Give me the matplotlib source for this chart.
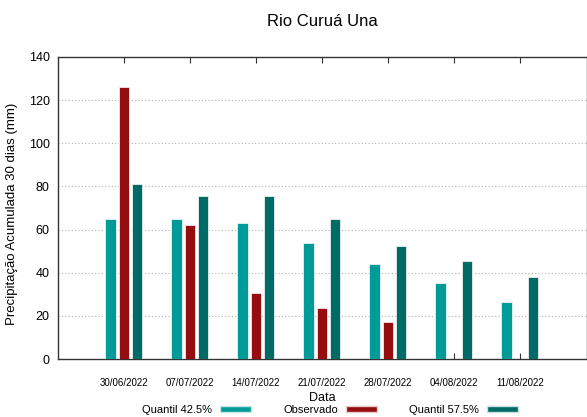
import numpy as np
import matplotlib
matplotlib.use("Agg")
import matplotlib.pyplot as plt
from matplotlib.patches import Patch

plt.rcParams['font.family'] = ['Liberation Sans', 'DejaVu Sans']

# dados
datas = ['30/06/2022', '07/07/2022', '14/07/2022', '21/07/2022',
         '28/07/2022', '04/08/2022', '11/08/2022']
quantil_425 = [64.8, 64.8, 63.2, 53.8, 44.1, 35.2, 26.5]
observado = [126.3, 62.1, 30.5, 23.6, 17.3, np.nan, np.nan]
quantil_575 = [81.1, 75.7, 75.7, 64.8, 52.3, 45.3, 38.2]

cor_q1 = '#009b98'
cor_obs = '#960d10'
cor_q2 = '#006a66'

fig = plt.figure(figsize=(5.87, 4.17), dpi=100)
ax = fig.add_axes([58 / 587, 1 - 359 / 417, 1 - 58 / 587, (359 - 57) / 417])

x = np.arange(len(datas))
w = 0.16
ax.bar(x - 0.2, quantil_425, w, color=cor_q1, edgecolor='#e8f4f4', linewidth=0.6, zorder=3)
ax.bar(x, observado, w, color=cor_obs, edgecolor='#f4e8e8', linewidth=0.6, zorder=3)
ax.bar(x + 0.2, quantil_575, w, color=cor_q2, edgecolor='#e8f0f0', linewidth=0.6, zorder=3)

ax.set_xlim(-1.0, 7.02)
ax.set_ylim(0, 140)
ax.set_yticks(np.arange(0, 141, 20))
ax.set_xticks(x)
ax.set_xticklabels(datas, fontsize=7)

for v in range(20, 140, 20):
    ax.axhline(v, color='#b0b0b0', linewidth=0.8, linestyle=(0, (1, 2)), zorder=1)

ax.tick_params(axis='x', direction='in', length=4, top=True, pad=14, colors='#333333',
               labelcolor='black')
ax.tick_params(axis='y', direction='in', length=0, pad=6, labelsize=9,
               labelcolor='black')
for s in ax.spines.values():
    s.set_color('#333333')
    s.set_linewidth(1.0)

ax.set_ylabel('Precipitação Acumulada 30 dias (mm)', fontsize=9.5)
ax.yaxis.set_label_coords(-(58 - 18) / 529, (359 - 214) / 302)
ax.set_xlabel('Data', fontsize=9)
ax.xaxis.set_label_coords((322 - 58) / 529, -(398 - 359) / 302)
ax.xaxis.label.set_va('center')

fig.text(322 / 587, 1 - 22 / 417, 'Rio Curuá Una', ha='center', va='center', fontsize=12)

handles = [Patch(facecolor=cor_q1, edgecolor='#c8e8e8'),
           Patch(facecolor=cor_obs, edgecolor='#e8c8c8'),
           Patch(facecolor=cor_q2, edgecolor='#c8e0e0')]
leg = fig.legend(handles, ['Quantil 42.5%', 'Observado', 'Quantil 57.5%'],
                 loc='center', bbox_to_anchor=(330 / 587, 1 - 410 / 417), ncol=3,
                 markerfirst=False, frameon=False, fontsize=8, handlelength=2.8,
                 handleheight=0.5, handletextpad=0.7, columnspacing=2.9,
                 borderpad=0)

fig.savefig('out.png', dpi=100)
